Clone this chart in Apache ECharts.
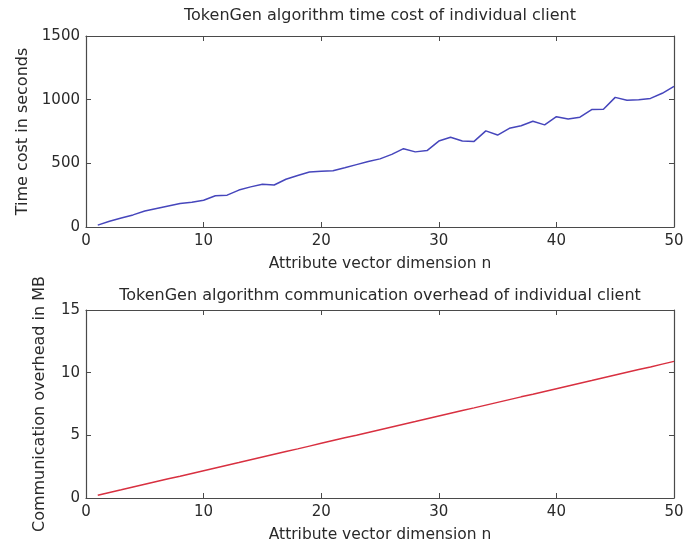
<!DOCTYPE html>
<html>
<head>
<meta charset="utf-8">
<script src="https://cdn.jsdelivr.net/npm/echarts@6/dist/echarts.min.js"></script>
<style>
html,body{margin:0;padding:0;background:#fff;}
#c{width:700px;height:546px;}
</style>
</head>
<body>
<div id="c"></div>
<script>
const dims = [1,2,3,4,5,6,7,8,9,10,11,12,13,14,15,16,17,18,19,20,21,22,23,24,25,26,27,28,29,30,31,32,33,34,35,36,37,38,39,40,41,42,43,44,45,46,47,48,49,50];
const timeCost = [15,45,70,95,125,145,165,185,195,210,245,250,290,315,335,330,375,405,432,438,442,465,490,515,535,570,615,590,600,675,705,675,672,755,722,775,795,830,802,866,848,862,922,925,1018,995,1000,1010,1050,1105];
const commOverhead = [0.22,0.44,0.65,0.87,1.09,1.31,1.53,1.74,1.96,2.18,2.40,2.62,2.83,3.05,3.27,3.49,3.71,3.92,4.14,4.36,4.58,4.80,5.01,5.23,5.45,5.67,5.89,6.10,6.32,6.54,6.76,6.98,7.19,7.41,7.63,7.85,8.07,8.28,8.50,8.72,8.94,9.16,9.37,9.59,9.81,10.03,10.25,10.46,10.68,10.90];
const titleTop = 'TokenGen algorithm time cost of individual client';
const titleBottom = 'TokenGen algorithm communication overhead of individual client';
const xName = 'Attribute vector dimension n';
const yNameTop = 'Time cost in seconds';
const yNameBottom = 'Communication overhead in MB';

const FONT = '"DejaVu Sans", sans-serif';
const TXT = '#2a2a2a';
const FRAME = '#4a4a4a';

function xAx(grid, pos, show) {
  return {
    type: 'value', gridIndex: grid, position: pos, min: 0, max: 50, interval: 10,
    axisLine: {show: true, onZero: false, lineStyle: {color: FRAME, width: 1.2}},
    axisTick: {show: true, inside: true, length: 5, lineStyle: {color: FRAME}},
    axisLabel: {show: show, color: TXT, fontFamily: FONT, fontSize: 15, margin: 7, formatter: v => String(v)},
    splitLine: {show: false},
    name: show ? xName : '', nameLocation: 'middle', nameGap: 29,
    nameTextStyle: {color: TXT, fontFamily: FONT, fontSize: 15.5}
  };
}
function yAx(grid, pos, show, max, interval, name, gap) {
  return {
    type: 'value', gridIndex: grid, position: pos, min: 0, max: max, interval: interval,
    axisLine: {show: true, onZero: false, lineStyle: {color: FRAME, width: 1.2}},
    axisTick: {show: true, inside: true, length: 5, lineStyle: {color: FRAME}},
    axisLabel: {show: show, color: TXT, fontFamily: FONT, fontSize: 15, margin: 6, formatter: v => String(v)},
    splitLine: {show: false},
    name: show ? name : '', nameLocation: 'middle', nameGap: gap,
    nameTextStyle: {color: TXT, fontFamily: FONT, fontSize: 16}
  };
}

const chart = echarts.init(document.getElementById('c'), null, {renderer: 'canvas'});
chart.setOption({
  animation: false,
  backgroundColor: '#fff',
  graphic: [
    {type: 'text', x: 380, y: 16, style: {text: titleTop, fill: TXT, font: '16px ' + FONT, textAlign: 'center', textVerticalAlign: 'middle'}},
    {type: 'text', x: 380, y: 296, style: {text: titleBottom, fill: TXT, font: '16px ' + FONT, textAlign: 'center', textVerticalAlign: 'middle'}}
  ],
  grid: [
    {left: 86, right: 26, top: 36, height: 191},
    {left: 86, right: 26, top: 310, height: 188}
  ],
  xAxis: [xAx(0, 'bottom', true), xAx(0, 'top', false), xAx(1, 'bottom', true), xAx(1, 'top', false)],
  yAxis: [
    yAx(0, 'left', true, 1500, 500, yNameTop, 54),
    yAx(0, 'right', false, 1500, 500, '', 0),
    yAx(1, 'left', true, 15, 5, yNameBottom, 38),
    yAx(1, 'right', false, 15, 5, '', 0)
  ],
  series: [
    {type: 'line', xAxisIndex: 0, yAxisIndex: 0, data: dims.map((d, i) => [d, timeCost[i]]), showSymbol: false, lineStyle: {color: '#4646bc', width: 1.5}},
    {type: 'line', xAxisIndex: 2, yAxisIndex: 2, data: dims.map((d, i) => [d, commOverhead[i]]), showSymbol: false, lineStyle: {color: '#d83040', width: 1.5}}
  ]
});
</script>
</body>
</html>
